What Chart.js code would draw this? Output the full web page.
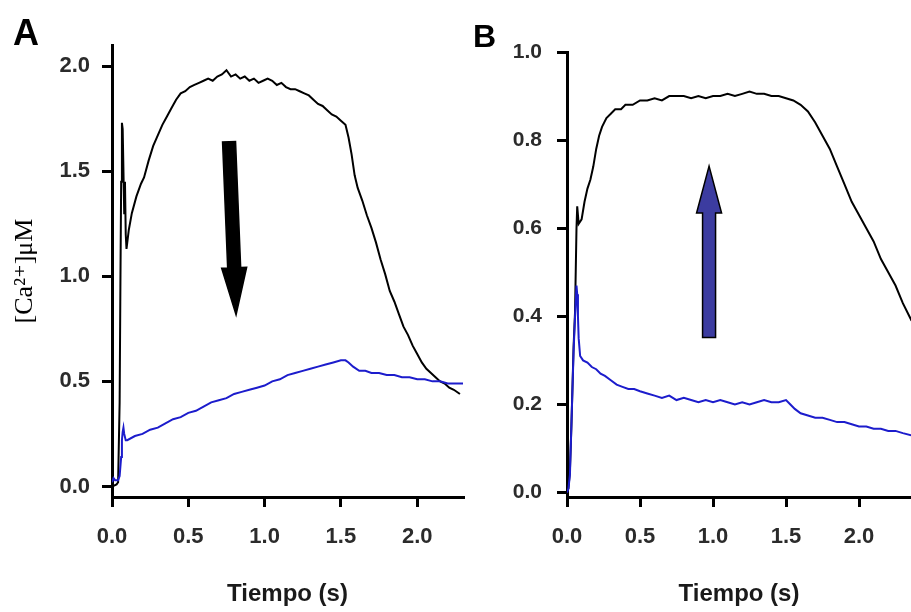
<!DOCTYPE html>
<html>
<head>
<meta charset="utf-8">
<script src="https://cdn.jsdelivr.net/npm/chart.js@4/dist/chart.umd.min.js"></script>
<style>
  body { margin: 0; background: #fff; width: 911px; height: 612px; overflow: hidden; position: relative; }
  canvas { position: absolute; top: 0; }
  #panelA { left: 0; }
  #panelB { left: 470px; }
</style>
</head>
<body>
<canvas id="panelA" width="470" height="612"></canvas>
<canvas id="panelB" width="441" height="612"></canvas>
<script>
// ---- datos ----
// Panel A: traza negra
const tA_negro = [0.00, 0.03, 0.04, 0.05, 0.055, 0.06, 0.065, 0.07, 0.075, 0.08, 0.085, 0.09, 0.095, 0.10, 0.11, 0.13,
  0.16, 0.19, 0.21, 0.24, 0.27, 0.30, 0.33, 0.36, 0.39, 0.42, 0.45, 0.48, 0.51, 0.54, 0.57, 0.60, 0.63, 0.66, 0.69,
  0.72, 0.75, 0.78, 0.81, 0.84, 0.87, 0.90, 0.93, 0.96, 0.99, 1.02, 1.05, 1.08, 1.11, 1.14, 1.17, 1.20, 1.23, 1.26,
  1.29, 1.32, 1.35, 1.38, 1.41, 1.44, 1.47, 1.50, 1.53, 1.55, 1.57, 1.59, 1.61, 1.64, 1.67, 1.70, 1.73, 1.76, 1.79,
  1.82, 1.85, 1.88, 1.91, 1.94, 1.97, 2.00, 2.03, 2.06, 2.09, 2.12, 2.15, 2.18, 2.21, 2.24, 2.28];
const caA_negro = [0.00, 0.01, 0.02, 0.40, 0.95, 1.45, 1.73, 1.70, 1.50, 1.30, 1.45, 1.20, 1.13, 1.16, 1.22, 1.30,
  1.38, 1.44, 1.47, 1.55, 1.62, 1.67, 1.72, 1.76, 1.80, 1.84, 1.87, 1.88, 1.90, 1.91, 1.92, 1.93, 1.94, 1.93, 1.95,
  1.96, 1.98, 1.95, 1.96, 1.94, 1.95, 1.93, 1.94, 1.92, 1.93, 1.94, 1.93, 1.91, 1.92, 1.90, 1.89, 1.89, 1.88, 1.87,
  1.86, 1.84, 1.82, 1.81, 1.79, 1.77, 1.76, 1.74, 1.72, 1.66, 1.58, 1.48, 1.42, 1.36, 1.29, 1.23, 1.16, 1.08, 1.01,
  0.93, 0.88, 0.82, 0.76, 0.72, 0.67, 0.63, 0.59, 0.56, 0.54, 0.52, 0.50, 0.49, 0.47, 0.46, 0.44];
// Panel A: traza azul
const tA_azul = [0.00, 0.01, 0.02, 0.04, 0.05, 0.06, 0.065, 0.07, 0.075, 0.08, 0.09, 0.10, 0.15, 0.20, 0.25, 0.30,
  0.35, 0.40, 0.45, 0.50, 0.55, 0.60, 0.65, 0.70, 0.75, 0.80, 0.85, 0.90, 0.95, 1.00, 1.05, 1.10, 1.15, 1.20, 1.25,
  1.30, 1.35, 1.40, 1.45, 1.50, 1.53, 1.55, 1.58, 1.62, 1.66, 1.70, 1.75, 1.80, 1.85, 1.90, 1.95, 2.00, 2.05, 2.10,
  2.15, 2.20, 2.25, 2.30];
const caA_azul = [0.02, 0.04, 0.03, 0.03, 0.05, 0.14, 0.22, 0.26, 0.28, 0.25, 0.22, 0.22, 0.24, 0.25, 0.27, 0.28,
  0.30, 0.32, 0.33, 0.35, 0.36, 0.38, 0.40, 0.41, 0.42, 0.44, 0.45, 0.46, 0.47, 0.48, 0.50, 0.51, 0.53, 0.54, 0.55,
  0.56, 0.57, 0.58, 0.59, 0.60, 0.60, 0.59, 0.57, 0.55, 0.55, 0.54, 0.54, 0.53, 0.53, 0.52, 0.52, 0.51, 0.51, 0.50,
  0.50, 0.49, 0.49, 0.49];
// Panel B: traza negra
const tB_negro = [0.00, 0.01, 0.02, 0.03, 0.045, 0.055, 0.065, 0.07, 0.08, 0.10, 0.12, 0.14, 0.16, 0.18, 0.20, 0.22,
  0.24, 0.27, 0.30, 0.33, 0.37, 0.40, 0.45, 0.50, 0.55, 0.60, 0.65, 0.70, 0.75, 0.80, 0.85, 0.90, 0.95, 1.00, 1.05,
  1.10, 1.15, 1.20, 1.25, 1.30, 1.35, 1.40, 1.45, 1.50, 1.55, 1.60, 1.65, 1.70, 1.75, 1.80, 1.85, 1.90, 1.95, 2.00,
  2.05, 2.10, 2.15, 2.20, 2.25, 2.30, 2.36];
const caB_negro = [0.00, 0.01, 0.05, 0.15, 0.33, 0.41, 0.60, 0.65, 0.61, 0.62, 0.66, 0.69, 0.71, 0.74, 0.78, 0.81,
  0.83, 0.85, 0.86, 0.87, 0.87, 0.88, 0.88, 0.89, 0.89, 0.895, 0.89, 0.90, 0.90, 0.90, 0.895, 0.90, 0.895, 0.90, 0.90,
  0.905, 0.90, 0.905, 0.91, 0.905, 0.905, 0.90, 0.90, 0.895, 0.89, 0.88, 0.865, 0.84, 0.81, 0.78, 0.74, 0.70, 0.66, 0.63,
  0.60, 0.57, 0.53, 0.50, 0.47, 0.43, 0.39];
// Panel B: traza azul
const tB_azul = [0.00, 0.01, 0.02, 0.03, 0.045, 0.055, 0.065, 0.07, 0.075, 0.08, 0.09, 0.11, 0.14, 0.17, 0.20, 0.23,
  0.26, 0.30, 0.34, 0.38, 0.42, 0.46, 0.50, 0.55, 0.60, 0.65, 0.70, 0.75, 0.80, 0.85, 0.90, 0.95, 1.00, 1.05, 1.10,
  1.15, 1.20, 1.25, 1.30, 1.35, 1.40, 1.45, 1.50, 1.53, 1.56, 1.60, 1.65, 1.70, 1.75, 1.80, 1.85, 1.90, 1.95, 2.00,
  2.05, 2.10, 2.15, 2.20, 2.25, 2.30, 2.36];
const caB_azul = [0.00, 0.01, 0.04, 0.15, 0.32, 0.40, 0.47, 0.45, 0.40, 0.35, 0.31, 0.30, 0.295, 0.285, 0.28, 0.27,
  0.265, 0.255, 0.245, 0.24, 0.235, 0.235, 0.23, 0.225, 0.22, 0.215, 0.22, 0.21, 0.215, 0.21, 0.205, 0.21, 0.205, 0.21,
  0.205, 0.20, 0.205, 0.20, 0.205, 0.21, 0.205, 0.205, 0.21, 0.20, 0.19, 0.18, 0.175, 0.17, 0.17, 0.165, 0.16, 0.16,
  0.155, 0.15, 0.15, 0.145, 0.145, 0.14, 0.14, 0.135, 0.13];

// ticks
const ticksX = [0, 0.5, 1.0, 1.5, 2.0];
const ticksYA = [0, 0.5, 1.0, 1.5, 2.0];
const ticksYB = [0, 0.2, 0.4, 0.6, 0.8, 1.0];

function puntos(xs, ys) {
  return xs.map((x, i) => ({ x: x, y: ys[i] }));
}

const SANS = "'Liberation Sans', Arial, sans-serif";

// flecha dibujada en coordenadas de datos + letra del panel
const anotaciones = {
  id: 'anotaciones',
  afterDatasetsDraw(chart, args, o) {
    const ctx = chart.ctx;
    const sx = chart.scales.x, sy = chart.scales.y;
    const x0 = sx.getPixelForValue(o.desde[0]), y0 = sy.getPixelForValue(o.desde[1]);
    const x1 = sx.getPixelForValue(o.hasta[0]), y1 = sy.getPixelForValue(o.hasta[1]);
    const len = Math.hypot(x1 - x0, y1 - y0);
    const ux = (x1 - x0) / len, uy = (y1 - y0) / len;
    const nx = -uy, ny = ux;
    const hw = 6.5, hh = 12.5, hl = 47;
    const bx = x1 - ux * hl, by = y1 - uy * hl;
    ctx.save();
    ctx.beginPath();
    ctx.moveTo(x0 + nx * hw, y0 + ny * hw);
    ctx.lineTo(bx + nx * hw, by + ny * hw);
    ctx.lineTo(bx + nx * hh, by + ny * hh);
    ctx.lineTo(x1, y1);
    ctx.lineTo(bx - nx * hh, by - ny * hh);
    ctx.lineTo(bx - nx * hw, by - ny * hw);
    ctx.lineTo(x0 - nx * hw, y0 - ny * hw);
    ctx.closePath();
    ctx.fillStyle = o.relleno;
    ctx.fill();
    ctx.lineWidth = 1.5;
    ctx.strokeStyle = '#000';
    ctx.stroke();
    // letra
    ctx.font = o.letraFuente;
    ctx.fillStyle = '#000';
    ctx.textBaseline = 'alphabetic';
    ctx.fillText(o.letra, o.letraX, o.letraY);
    ctx.restore();
  }
};

function crearPanel(id, cfg) {
  return new Chart(document.getElementById(id), {
    type: 'line',
    data: {
      datasets: [
        { data: cfg.azul, borderColor: '#1c1ccc', borderWidth: 2, pointRadius: 0, tension: 0 },
        { data: cfg.negro, borderColor: '#000', borderWidth: 2, pointRadius: 0, tension: 0 }
      ]
    },
    options: {
      responsive: false,
      animation: false,
      devicePixelRatio: 1,
      layout: { padding: cfg.padding },
      plugins: {
        legend: { display: false },
        tooltip: { enabled: false },
        anotaciones: cfg.anot
      },
      scales: {
        x: {
          type: 'linear',
          min: 0,
          max: cfg.xMax,
          afterBuildTicks: s => { s.ticks = ticksX.map(v => ({ value: v })); },
          afterFit: s => { s.height = 115; },
          border: { display: true, color: '#000', width: 3 },
          grid: { drawOnChartArea: false, drawTicks: true, tickLength: 10, color: '#000', lineWidth: 3 },
          ticks: {
            padding: 17,
            color: '#2b2b2b',
            font: { family: SANS, weight: 'bold', size: 22 },
            maxRotation: 0,
            callback: v => Number(v).toFixed(1)
          },
          title: {
            display: true,
            text: 'Tiempo (s)',
            color: '#1a1a1a',
            font: { family: SANS, weight: 'bold', size: 24 },
            padding: { top: 0, bottom: 3 }
          }
        },
        y: {
          type: 'linear',
          min: cfg.yMin,
          max: cfg.yMax,
          afterBuildTicks: s => { s.ticks = cfg.ticksY.map(v => ({ value: v })); },
          afterFit: s => { s.width = cfg.anchoY; },
          border: { display: true, color: '#000', width: 3 },
          grid: { drawOnChartArea: false, drawTicks: true, tickLength: 10, color: '#000', lineWidth: 3 },
          ticks: {
            padding: cfg.padTickY,
            color: '#2b2b2b',
            font: cfg.fuenteTickY,
            callback: v => Number(v).toFixed(1)
          },
          title: cfg.tituloY
        }
      }
    },
    plugins: [anotaciones]
  });
}

crearPanel('panelA', {
  negro: puntos(tA_negro, caA_negro),
  azul: puntos(tA_azul, caA_azul),
  padding: { left: 0, top: 45, right: 7, bottom: 0 },
  xMax: 2.3,
  yMin: -0.05,
  yMax: 2.1,
  ticksY: ticksYA,
  anchoY: 112,
  padTickY: 12,
  fuenteTickY: { family: SANS, weight: 'bold', size: 22 },
  tituloY: {
    display: true,
    text: '[Ca\u00B2\u207A]\u03BCM',
    color: '#000',
    font: { family: "'Liberation Serif', 'DejaVu Serif', serif", size: 26 },
    padding: { top: 10, bottom: 0 }
  },
  anot: {
    desde: [0.767, 1.64], hasta: [0.813, 0.817], relleno: '#000',
    letra: 'A', letraX: 13, letraY: 45, letraFuente: "bold 36px " + SANS
  }
});

crearPanel('panelB', {
  negro: puntos(tB_negro, caB_negro),
  azul: puntos(tB_azul, caB_azul),
  padding: { left: 0, top: 52, right: 0, bottom: 0 },
  xMax: 2.356,
  yMin: -0.01,
  yMax: 1.0,
  ticksY: ticksYB,
  anchoY: 97,
  padTickY: 15,
  fuenteTickY: { family: SANS, weight: 'bold', size: 21 },
  tituloY: { display: false },
  anot: {
    desde: [0.973, 0.352], hasta: [0.973, 0.741], relleno: '#3c3ca0',
    letra: 'B', letraX: 3, letraY: 47, letraFuente: "bold 32px " + SANS
  }
});
</script>
</body>
</html>
